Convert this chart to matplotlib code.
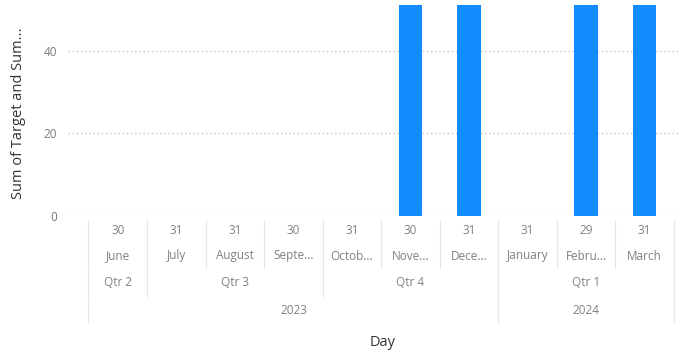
import matplotlib
matplotlib.use("Agg")
import matplotlib.pyplot as plt
from matplotlib.transforms import blended_transform_factory

months = ["June", "July", "August", "Septe...", "Octob...", "Nove...", "Dece...", "January", "Febru...", "March"]
days = ["30", "31", "31", "30", "31", "30", "31", "31", "29", "31"]
values = [0, 0, 0, 0, 0, 60, 60, 0, 60, 60]
quarters = [("Qtr 2", 0, 0), ("Qtr 3", 1, 3), ("Qtr 4", 4, 6), ("Qtr 1", 7, 9)]
years = [("2023", 0, 6), ("2024", 7, 9)]
yticks = [0, 20, 40]

W, H = 682, 353
fig = plt.figure(figsize=(W / 100, H / 100), dpi=100)
plt.rcParams['font.family'] = ['Open Sans', 'DejaVu Sans']
ax = fig.add_axes([68 / W, (H - 216) / H, (678 - 68) / W, (216 - 5) / H])

x = list(range(len(months)))
ax.bar(x, values, width=0.4, color="#118DFF", zorder=3)
ax.set_xlim(-0.85, 9.57)
ax.set_ylim(0, 51)
ax.set_yticks(yticks)
ax.set_yticklabels([str(v) for v in yticks], color="#777777", fontsize=8.5)
ax.tick_params(axis="y", length=0, pad=8)
ax.set_xticks([])
for s in ax.spines.values():
    s.set_visible(False)
for v in yticks:
    ax.axhline(v, color="#C8C8C8", linestyle=(0, (1, 2)), linewidth=1, zorder=1)

fig.text(19 / W, 1 - 113 / H, "Sum of Target and Sum...", rotation=90, ha="center", va="center",
         color="#333333", fontsize=10.5)

tr = blended_transform_factory(ax.transData, fig.transFigure)
txtc = "#808080"
sepc = "#E6E6E6"

def fy(py):
    return 1 - py / H

for i in x:
    ax.text(i, fy(231), days[i], transform=tr, ha="center", va="center", fontsize=8.5, color=txtc)
    ax.text(i, fy(256), months[i], transform=tr, ha="center", va="center", fontsize=8.5, color=txtc)

for i in range(len(months) + 1):
    xb = i - 0.5
    ax.plot([xb, xb], [fy(220), fy(268)], transform=tr, color=sepc, lw=0.8, clip_on=False)

for name, a, b in quarters:
    ax.text((a + b) / 2, fy(283), name, transform=tr, ha="center", va="center", fontsize=8.5, color=txtc)
    for xb in (a - 0.5, b + 0.5):
        ax.plot([xb, xb], [fy(270), fy(296)], transform=tr, color=sepc, lw=0.8, clip_on=False)

for name, a, b in years:
    ax.text((a + b) / 2, fy(310), name, transform=tr, ha="center", va="center", fontsize=8.5, color=txtc)
    for xb in (a - 0.5, b + 0.5):
        ax.plot([xb, xb], [fy(298), fy(322)], transform=tr, color=sepc, lw=0.8, clip_on=False)

fig.text(383 / W, fy(342), "Day", ha="center", va="center", fontsize=10.5, color="#333333")

fig.savefig("out.png", dpi=100)
